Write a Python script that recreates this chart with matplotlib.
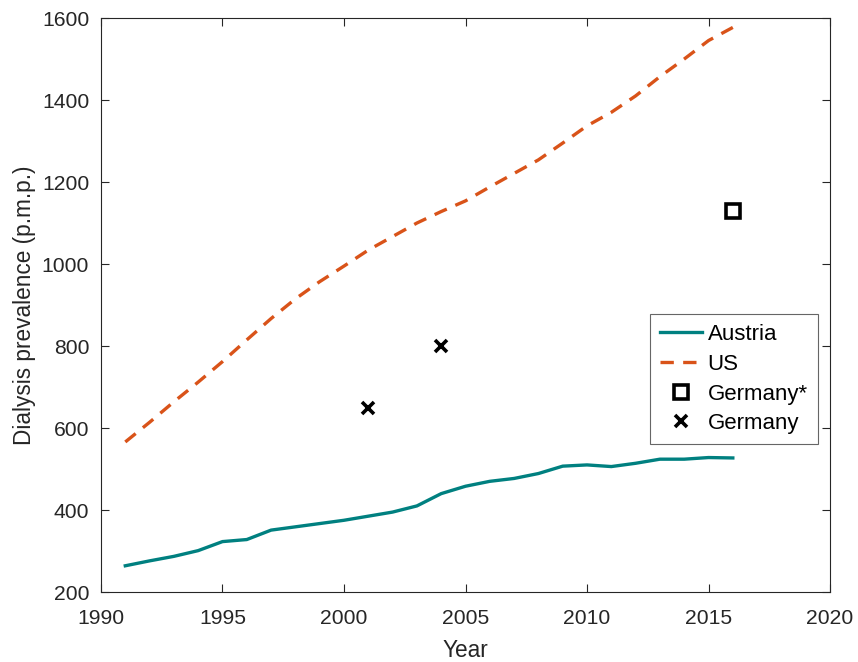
import numpy as np
import matplotlib
matplotlib.use("Agg")
import matplotlib.pyplot as plt

plt.rcParams['font.family'] = ['Liberation Sans', 'DejaVu Sans']

years = np.arange(1991, 2017)
austria = [264, 276, 287, 301, 323, 328, 351, 359, 367, 375, 385, 395, 410, 440,
           458, 470, 477, 489, 507, 510, 506, 514, 524, 524, 528, 527]
us = [566, 614, 664, 712, 762, 815, 867, 915, 957, 995, 1034, 1067, 1100, 1128,
      1154, 1188, 1221, 1254, 1295, 1337, 1370, 1410, 1457, 1500, 1545, 1577]
germany_years = [2001, 2004]
germany = [650, 800]
germany_star_years = [2016]
germany_star = [1130]

ax_col = (0.15, 0.15, 0.15)

fig = plt.figure(figsize=(8.58, 6.62), dpi=100)
ax = fig.add_axes([0.1177, 0.1057, 0.8497, 0.8671])

ax.plot(years, austria, color='#008080', lw=2.4, label='Austria')
ax.plot(years, us, color='#D95319', lw=2.4, dashes=(4, 2.8), label='US')
ax.plot(germany_star_years, germany_star, ls='none', marker='s', ms=10,
        mfc='none', mec='black', mew=2.6, label='Germany*')
ax.plot(germany_years, germany, ls='none', marker='x', ms=9,
        mec='black', mew=2.6, label='Germany')

ax.set_xlim(1990, 2020)
ax.set_ylim(200, 1600)
ax.set_xticks(range(1990, 2021, 5))
ax.set_yticks(range(200, 1601, 200))
ax.tick_params(direction='in', length=5.5, width=0.8, top=True, right=True,
               labelsize=15.2, colors=ax_col)
ax.tick_params(axis='x', pad=12.5)
ax.tick_params(axis='y', pad=8.5)
for s in ax.spines.values():
    s.set_color(ax_col)
    s.set_linewidth(0.8)

ax.set_xlabel('Year', fontsize=16.3, color=ax_col, labelpad=8)
ax.set_ylabel('Dialysis prevalence (p.m.p.)', fontsize=16.3, color=ax_col, labelpad=4)

leg = ax.legend(loc='upper right', bbox_to_anchor=(0.983, 0.484), fontsize=16,
                frameon=True, fancybox=False, edgecolor=(0.4, 0.4, 0.4), framealpha=1,
                handlelength=1.9, handletextpad=0.25, borderpad=0.45,
                labelspacing=0.39, borderaxespad=0)
leg.get_frame().set_linewidth(0.8)

fig.savefig('out.png', dpi=100)
